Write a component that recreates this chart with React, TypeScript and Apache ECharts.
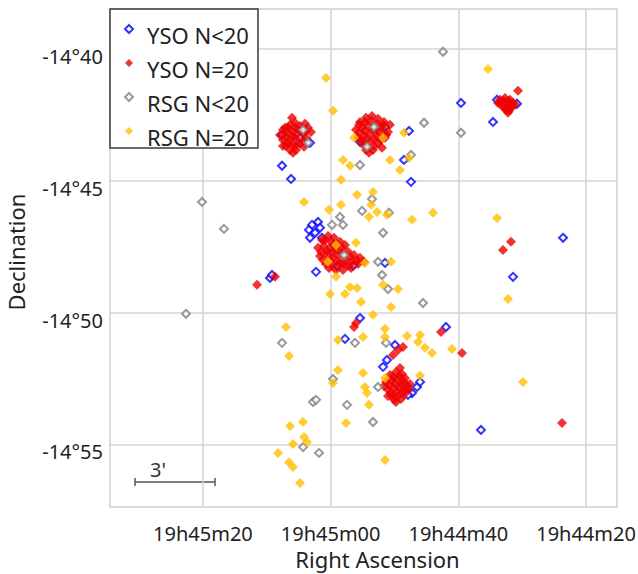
import React, { useEffect, useRef } from "react";
import * as echarts from "echarts";

// Coordinates: RA as seconds after 19h44m00s, Dec as arcminutes south of -14°00'
const raTicks = [20, 40, 60, 80];
const decTicks = [40, 45, 50, 55];

const ysoPartial: [number, number][] = [
  [39.58, 42.04], [33.94, 41.92], [30.81, 42.07], [34.57, 42.76],
  [47.72, 43.1], [48.51, 44.2], [47.41, 45.03],
  [51.48, 42.95], [55.4, 43.51],
  [67.61, 43.25], [64.79, 43.36], [63.23, 43.55],
  [67.61, 44.42], [66.2, 44.92],
  [62.91, 46.66], [61.97, 46.55], [63.39, 46.85], [62.44, 46.96], [61.66, 46.77], [63.23, 47.15], [61.35, 47.15],
  [62.29, 48.44], [59.0, 48.21], [56.49, 48.21], [51.48, 48.1],
  [69.49, 48.67], [69.18, 48.56],
  [57.75, 50.98], [55.4, 50.19],
  [49.92, 51.21], [51.17, 51.78], [51.79, 52.04], [46.47, 52.8], [47.25, 53.03], [47.88, 53.1], [46.0, 52.61],
  [41.93, 50.53],
  [23.6, 47.15], [31.43, 48.63], [36.45, 54.43],
];

const ysoFull: [number, number][] = [
  // north-east group
  [30.65, 41.58], [33.47, 41.92], [32.69, 41.85], [31.9, 41.92], [33.0, 42.11], [32.22, 42.11],
  [31.43, 42.04], [32.53, 42.3], [31.75, 42.23], [33.47, 42.07], [31.12, 42.11], [32.22, 42.41],
  [33.0, 41.96], [32.22, 41.96], [32.85, 42.23], [32.06, 42.34], [33.78, 42.04], [31.59, 42.15],
  // western group
  [67.14, 42.98], [66.36, 42.87], [65.58, 42.79], [64.79, 42.91], [64.01, 42.83], [65.11, 43.06],
  [66.67, 43.17], [65.89, 43.14], [64.32, 43.21], [67.46, 43.44], [66.36, 43.44], [65.42, 43.36],
  [63.85, 43.36], [63.07, 43.14], [66.99, 43.67], [65.89, 43.63], [64.79, 43.59], [66.36, 43.82],
  [65.42, 43.82], [63.54, 42.98], [66.05, 42.6], [67.93, 43.25],
  [67.46, 43.06], [66.67, 42.98], [65.58, 42.98], [64.64, 43.1], [63.85, 43.1], [66.99, 43.32],
  [65.89, 43.32], [64.32, 43.48], [66.67, 43.55], [65.42, 43.63], [67.46, 43.67], [64.17, 43.7],
  [65.89, 43.93],
  // northern group
  [55.4, 42.76], [54.46, 42.6], [53.52, 42.53], [52.58, 42.64], [51.64, 42.76], [56.02, 43.06],
  [55.08, 42.98], [54.14, 42.91], [52.89, 43.06], [51.95, 42.98], [51.01, 43.14], [55.71, 43.36],
  [54.77, 43.29], [53.83, 43.21], [52.73, 43.32], [51.48, 43.36], [55.08, 43.59], [53.83, 43.51],
  [52.58, 43.59], [54.46, 43.82], [53.36, 43.82], [50.7, 42.87],
  [55.55, 42.87], [54.62, 42.76], [53.67, 42.72], [52.73, 42.83], [51.79, 42.87], [55.55, 43.17],
  [54.62, 43.1], [53.36, 43.06], [52.26, 43.17], [51.32, 43.25], [55.24, 43.44], [54.3, 43.4],
  [53.2, 43.4], [52.11, 43.44], [54.46, 43.67], [53.2, 43.67], [51.95, 43.74], [53.99, 43.93],
  // central group
  [61.35, 47.23], [60.41, 47.08], [59.47, 47.15], [58.53, 47.3], [61.97, 47.53], [61.04, 47.46],
  [60.1, 47.53], [59.16, 47.61], [58.22, 47.53], [57.28, 47.68], [56.34, 47.8], [55.4, 47.91],
  [61.66, 47.84], [60.57, 47.8], [59.63, 47.91], [58.69, 47.84], [57.75, 47.99], [56.65, 48.06],
  [60.72, 48.14], [59.78, 48.21], [58.53, 48.14], [57.28, 48.21], [55.71, 48.14], [54.77, 48.06],
  [59.16, 48.37],
  [60.88, 47.23], [59.94, 47.3], [59.0, 47.38], [57.75, 47.42], [61.5, 47.68], [60.57, 47.65],
  [59.63, 47.72], [58.22, 47.72], [56.96, 47.87], [55.87, 48.02], [61.19, 47.99], [60.1, 48.02],
  [59.0, 48.06], [57.9, 48.14], [56.81, 48.29], [60.25, 48.29], [58.06, 48.37], [59.47, 47.42],
  // scattered
  [71.53, 48.93], [68.71, 48.63],
  [56.02, 50.38], [56.34, 50.53],
  [42.71, 50.72], [39.42, 51.51],
  [49.45, 51.4], [50.23, 51.59], [48.66, 51.29],
  // southern group
  [50.7, 52.35], [49.76, 52.23], [48.82, 52.31], [51.32, 52.61], [50.39, 52.54], [49.45, 52.54],
  [48.51, 52.61], [47.57, 52.69], [51.01, 52.91], [50.07, 52.84], [49.13, 52.84], [48.19, 52.91],
  [50.39, 53.14], [49.45, 53.14], [48.51, 53.1], [49.76, 53.37], [51.64, 52.77], [49.13, 52.08],
  [50.23, 52.42], [49.29, 52.38], [48.35, 52.46], [50.86, 52.73], [49.92, 52.69], [48.98, 52.69],
  [48.04, 52.76], [50.54, 53.03], [49.6, 52.99], [48.66, 52.95], [47.72, 52.91], [48.98, 53.26],
  [50.07, 53.29], [51.01, 53.14],
  [33.0, 47.61], [31.75, 47.3], [23.76, 54.17],
];

const rsgPartial: [number, number][] = [
  [42.4, 40.1], [45.37, 42.79], [39.58, 43.17], [47.41, 44.01],
  [64.32, 43.06], [63.54, 43.55], [53.2, 42.95], [54.3, 43.7], [55.4, 44.39],
  [80.14, 45.79], [76.7, 46.81],
  [53.52, 45.68], [55.08, 46.13], [50.86, 46.2], [58.53, 46.36], [58.06, 46.66], [59.78, 46.66],
  [51.79, 46.96], [57.9, 47.8], [52.58, 48.06], [51.95, 48.56],
  [82.65, 50.03], [51.01, 49.09], [45.53, 49.62],
  [67.61, 51.13], [56.18, 51.13], [51.32, 51.13],
  [59.63, 52.5], [52.58, 52.8], [62.76, 53.37], [62.29, 53.29], [57.43, 53.48], [53.36, 54.13],
  [64.32, 55.08], [61.82, 55.3],
];

const rsgFull: [number, number][] = [
  [60.72, 41.09], [35.35, 40.75], [59.63, 42.34], [56.34, 43.36], [51.79, 43.36], [48.51, 43.17],
  [58.06, 44.2], [56.96, 44.42], [50.7, 44.2], [47.72, 44.12], [49.13, 44.58], [58.37, 44.95],
  [64.17, 45.79], [55.87, 45.52], [53.36, 45.41], [53.67, 45.9], [58.37, 45.9], [52.73, 46.17],
  [53.99, 46.36], [51.17, 46.28], [60.25, 46.09], [47.25, 46.47], [43.96, 46.2], [33.94, 46.4],
  [56.02, 47.34], [59.16, 47.42], [60.41, 48.06], [54.62, 48.1], [50.54, 48.06], [59.16, 48.63],
  [32.22, 49.47], [66.99, 50.53], [66.52, 51.63],
  [60.1, 49.28], [57.75, 49.28], [56.96, 49.01], [55.87, 49.05], [55.24, 49.58], [51.79, 48.93],
  [49.45, 49.09], [50.54, 49.77], [53.36, 50.07], [51.48, 50.6], [51.48, 50.91], [48.04, 50.87],
  [46.0, 50.83], [46.31, 51.1], [45.22, 51.32], [44.12, 51.51], [40.99, 51.36], [54.93, 50.91],
  [58.85, 51.02], [58.85, 52.16], [54.93, 52.27], [59.63, 52.65], [54.62, 52.8], [54.3, 53.03],
  [53.99, 53.48], [51.48, 52.46], [46.0, 52.38], [57.59, 54.17],
  [66.36, 54.28], [64.32, 54.13], [64.17, 54.7], [63.7, 54.89], [65.89, 54.96], [68.24, 55.3],
  [66.52, 55.65], [65.89, 55.83], [64.79, 56.44], [51.48, 55.57], [29.87, 52.61],
];

const FONT = "Noto Sans";
const TEXT = "#222";

function raLabel(v: number): string {
  const total = 44 * 60 + Math.round(v);
  const m = Math.floor(total / 60);
  const s = total % 60;
  return `19h${m}m${String(s).padStart(2, "0")}`;
}

function decLabel(v: number): string {
  return `-14°${v}`;
}

export default function App() {
  const ref = useRef<HTMLDivElement>(null);

  useEffect(() => {
    if (!ref.current) return;
    const chart = echarts.init(ref.current, undefined, { renderer: "svg" });
    const gridLine = { show: true, lineStyle: { color: "#d4d4d4", width: 1.5 } };
    chart.setOption({
      animation: false,
      textStyle: { fontFamily: FONT },
      grid: {
        left: 110,
        right: 21,
        top: 9,
        bottom: 67,
        show: true,
        borderColor: "#cfcfcf",
        borderWidth: 1.5,
        outerBoundsMode: "none",
      },
      legend: {
        orient: "vertical",
        left: 110,
        top: 9,
        backgroundColor: "#fff",
        borderColor: "#3a3a3a",
        borderWidth: 1.5,
        borderRadius: 0,
        padding: [3, 9, 0, 14],
        itemGap: 0,
        itemWidth: 8,
        itemHeight: 8,
        formatter: (name: string) => `{t|${name}}`,
        textStyle: {
          fontFamily: FONT,
          fontSize: 22,
          color: TEXT,
          rich: {
            t: { fontFamily: FONT, fontSize: 22, color: TEXT, lineHeight: 22, padding: [12, 0, 0, 9] },
          },
        },
        data: ["YSO N<20", "YSO N=20", "RSG N<20", "RSG N=20"],
      },
      xAxis: {
        type: "value",
        inverse: true,
        min: 15.15,
        max: 94.55,
        name: "Right Ascension",
        nameLocation: "middle",
        nameGap: 41,
        nameTextStyle: { fontFamily: FONT, fontSize: 22, color: TEXT, padding: [0, 0, 0, 28] },
        axisLine: { show: false },
        axisTick: { show: false, customValues: raTicks },
        axisLabel: { customValues: raTicks, formatter: raLabel, fontFamily: FONT, fontSize: 20, color: TEXT, margin: 16 },
        splitLine: gridLine,
      },
      yAxis: {
        type: "value",
        inverse: true,
        min: 38.48,
        max: 57.35,
        name: "Declination",
        nameLocation: "middle",
        nameGap: 83,
        nameTextStyle: { fontFamily: FONT, fontSize: 22, color: TEXT, padding: [0, 0, 0, 12] },
        axisLine: { show: false },
        axisTick: { show: false, customValues: decTicks },
        axisLabel: {
          customValues: decTicks,
          formatter: decLabel,
          fontFamily: FONT,
          fontSize: 20,
          color: TEXT,
          margin: 7,
          verticalAlign: "top",
          lineHeight: 14,
        },
        splitLine: gridLine,
      },
      series: [
        {
          name: "YSO N<20",
          type: "scatter",
          symbol: "diamond",
          symbolSize: 8,
          data: ysoPartial,
          itemStyle: { color: "#fff", borderColor: "#0000ff", borderWidth: 2 },
        },
        {
          name: "YSO N=20",
          type: "scatter",
          symbol: "diamond",
          symbolSize: 10,
          data: ysoFull,
          itemStyle: { color: "#ee0000" },
        },
        {
          name: "RSG N<20",
          type: "scatter",
          symbol: "diamond",
          symbolSize: 8,
          data: rsgPartial,
          itemStyle: { color: "#fff", borderColor: "#808080", borderWidth: 2 },
        },
        {
          name: "RSG N=20",
          type: "scatter",
          symbol: "diamond",
          symbolSize: 10,
          data: rsgFull,
          itemStyle: { color: "#ffc000" },
        },
      ],
      graphic: [
        { type: "line", shape: { x1: 135, y1: 482, x2: 215, y2: 482 }, style: { stroke: "#555", lineWidth: 1.5 } },
        { type: "line", shape: { x1: 135, y1: 478, x2: 135, y2: 486 }, style: { stroke: "#555", lineWidth: 1.5 } },
        { type: "line", shape: { x1: 215, y1: 478, x2: 215, y2: 486 }, style: { stroke: "#555", lineWidth: 1.5 } },
        {
          type: "text",
          x: 158,
          y: 469,
          style: { text: "3'", fontFamily: FONT, fontSize: 20, fill: "#333", align: "center", verticalAlign: "middle" },
        },
      ],
    });
    return () => chart.dispose();
  }, []);

  return (
    <div
      ref={ref}
      style={{ position: "absolute", left: 0, top: 0, width: 638, height: 574, background: "#fff" }}
    />
  );
}
